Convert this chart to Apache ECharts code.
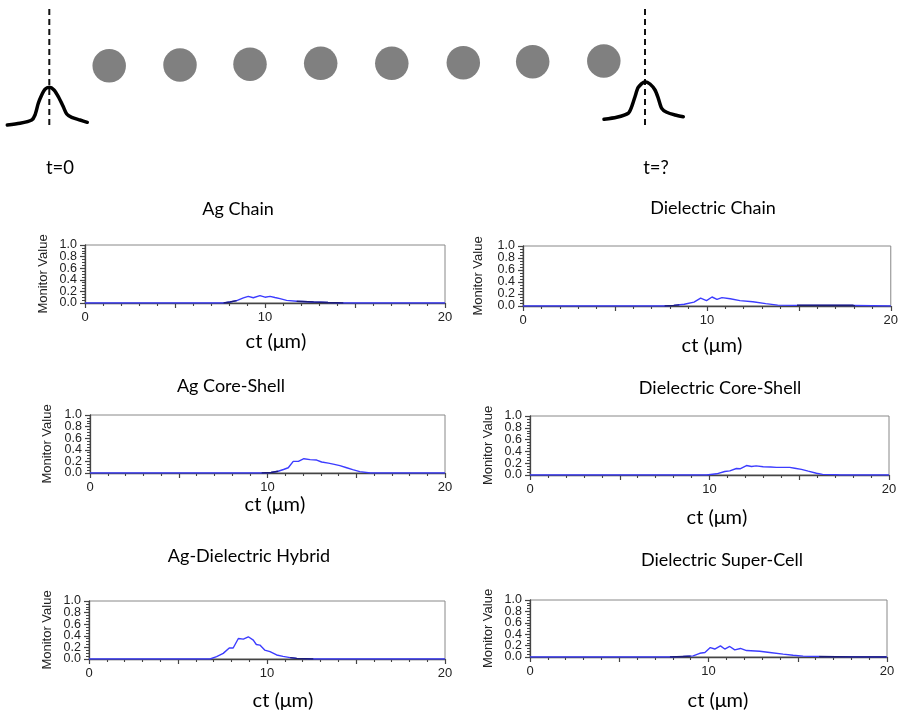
<!DOCTYPE html>
<html>
<head>
<meta charset="utf-8">
<script src="https://cdn.jsdelivr.net/npm/echarts@6/dist/echarts.min.js"></script>
<style>html,body{margin:0;padding:0;background:#fff;}#c{width:901px;height:712px;}</style>
</head>
<body>
<div id="c"></div>
<script>
// ---------- Schematic (top) data ----------
const beadX = [109.2, 180, 250, 320.7, 391.8, 463.3, 532.7, 603.8];
const beadY = [65.8, 65, 64.2, 63.3, 63.3, 62.7, 61.7, 61];
const pulseLeft = [[7.3,125],[20,123.3],[31.7,120],[35,115],[38.3,103.3],[41.7,95],[45,89.3],[49.3,87.3],[54,90],[58.3,96.7],[63.3,106.7],[66.7,114],[71.7,117.3],[80,120],[87.3,122.3]];
const pulseRight = [[604,119.3],[616.7,117.3],[628.3,113.3],[631.7,106.7],[635,96.7],[638.3,87.3],[645,81.7],[650,84],[655,90],[658.3,98.3],[661.7,108.3],[666.7,112.3],[675,115],[683.3,116.7]];
const markerLeft = [[49.3,9],[49.3,128]];
const markerRight = [[645,9],[645,128]];
const timeLabels = ['t=0', 't=?'];

// ---------- Panel data ----------
const panelTitles = ['Ag Chain', 'Dielectric Chain', 'Ag Core-Shell', 'Dielectric Core-Shell', 'Ag-Dielectric Hybrid', 'Dielectric Super-Cell'];
const xTickLabels = [0, 10, 20];
const yTickLabelsA = [0.0, 0.4, 0.8];
const yTickLabelsB = [0.2, 0.6, 1.0];

const agChain = [[0,0],[7.7,0],[8.05,0.017],[8.43,0.04],[8.8,0.087],[9.07,0.115],[9.35,0.09],[9.72,0.127],[10.0,0.1],[10.28,0.115],[10.55,0.095],[10.83,0.075],[11.2,0.046],[11.76,0.03],[12.7,0.017],[13.5,0.008],[14.35,0],[20,0]];
const agChainDark = [[[7.7,0],[8.05,0.017],[8.43,0.04]], [[11.76,0.03],[12.7,0.017],[13.5,0.008],[14.35,0]]];

const dielChain = [[0,0],[7.7,0],[8.2,0.01],[8.77,0.03],[9.3,0.065],[9.66,0.13],[9.98,0.09],[10.28,0.15],[10.55,0.11],[10.82,0.14],[11.27,0.12],[11.8,0.09],[12.5,0.07],[13.2,0.04],[13.85,0.015],[14.8,0.01],[18,0.008],[18.1,0],[20,0]];
const dielChainDark = [[[7.7,0],[8.2,0.01],[8.5,0.018]], [[14.9,0.012],[17.95,0.012],[18.05,0]]];

const agCoreShell = [[0,0],[9.67,0],[10.2,0.008],[10.6,0.03],[10.9,0.06],[11.17,0.09],[11.45,0.2],[11.74,0.2],[12.05,0.246],[12.4,0.23],[12.77,0.223],[13.05,0.19],[13.43,0.17],[13.7,0.154],[14.08,0.126],[14.46,0.09],[14.8,0.057],[15.2,0.023],[15.8,0],[20,0]];
const agCoreShellDark = [[[9.67,0],[10.2,0.008],[10.6,0.03]]];

const dielCoreShell = [[0,0],[9.83,0],[10.4,0.02],[10.85,0.06],[11.13,0.07],[11.5,0.11],[11.7,0.105],[12.06,0.16],[12.34,0.145],[12.6,0.155],[12.99,0.14],[13.4,0.135],[13.73,0.13],[14.1,0.13],[14.47,0.13],[14.75,0.115],[15.12,0.095],[15.5,0.065],[15.96,0.03],[16.3,0.01],[17.07,0.004],[17.3,0],[20,0]];
const dielCoreShellDark = [];

const hybrid = [[0,0],[6.8,0],[7.17,0.04],[7.54,0.097],[7.88,0.19],[8.1,0.19],[8.39,0.354],[8.67,0.343],[8.95,0.383],[9.23,0.326],[9.4,0.25],[9.6,0.24],[9.87,0.154],[10.17,0.126],[10.54,0.069],[10.9,0.046],[11.3,0.023],[11.67,0.011],[12.6,0],[20,0]];
const hybridDark = [[[11.3,0.023],[11.67,0.011],[12.6,0]]];

const superCell = [[0,0],[7.84,0],[8.58,0.01],[9.14,0.02],[9.51,0.065],[9.8,0.08],[10.1,0.165],[10.35,0.14],[10.67,0.195],[10.91,0.14],[11.19,0.185],[11.47,0.125],[11.79,0.15],[12.13,0.113],[12.87,0.1],[13.43,0.08],[14.18,0.05],[14.74,0.03],[15.3,0.015],[16.2,0.008],[18.1,0.003],[19.96,0],[20,0]];
const superCellDark = [[[7.84,0],[8.58,0.01],[9.0,0.015]], [[16.2,0.008],[18.1,0.003],[19.96,0]]];

const panelData = [agChain, dielChain, agCoreShell, dielCoreShell, hybrid, superCell];
const panelDark = [agChainDark, dielChainDark, agCoreShellDark, dielCoreShellDark, hybridDark, superCellDark];

// ---------- Layout (positions only) ----------
const panelGrids = [
  {left:85, top:245, width:360, height:58},
  {left:523, top:246, width:374, height:60},
  {left:90, top:415, width:355, height:58},
  {left:530, top:416, width:359, height:59},
  {left:89, top:601, width:356, height:58},
  {left:530, top:600, width:357, height:57}
];
const titlePos = [[238,209],[713,208],[231,386],[720,388],[249,556],[722,560]];
const xNamePos = [[276,342],[712,346],[275,505],[717,518],[283,701],[718,701]];
const yNameGap = [42,45,43,42,41.5,42];
const timePos = [[60,168],[656,168]];

const BLUE = '#3c3cff';
const DARK = '#1b1b7a';
const AX = '#444';

const grids = [{left:0, top:0, width:901, height:200, show:false}];
const xAxes = [{gridIndex:0, type:'value', min:0, max:901, show:false}];
const yAxes = [{gridIndex:0, type:'value', min:0, max:200, inverse:true, show:false}];
const series = [];
const titles = [];

// schematic series
[markerLeft, markerRight].forEach(m => series.push({
  type:'line', xAxisIndex:0, yAxisIndex:0, data:m, symbol:'none', silent:true,
  lineStyle:{color:'#111', width:2, type:[6,4]}
}));
[pulseLeft, pulseRight].forEach(p => series.push({
  type:'line', xAxisIndex:0, yAxisIndex:0, data:p, symbol:'none', smooth:0.25, silent:true,
  lineStyle:{color:'#000', width:3.5, cap:'round', join:'round'}
}));
series.push({
  type:'scatter', xAxisIndex:0, yAxisIndex:0, symbol:'circle', symbolSize:33.5,
  data: beadX.map((x,i) => [x, beadY[i]]),
  itemStyle:{color:'#808080', opacity:1}, silent:true
});
timeLabels.forEach((t,i) => titles.push({
  text:t, left:timePos[i][0], top:timePos[i][1], textAlign:'center', textVerticalAlign:'middle', padding:0,
  textStyle:{fontFamily:'Lato', fontSize:18.5, fontWeight:'normal', color:'#000'}
}));

const labelFmt = list => v => { const m = list.find(t => Math.abs(t - v) < 1e-6); return m === undefined ? '' : m.toFixed(1); };
const yLabelStyle = {margin:8, fontSize:12.5, color:'#222', fontFamily:'Liberation Sans', showMinLabel:true, showMaxLabel:true, hideOverlap:false};

// panels
panelTitles.forEach((name, k) => {
  const gi = k + 1;
  grids.push(Object.assign({show:true, borderColor:'#888', borderWidth:1, backgroundColor:'transparent'}, panelGrids[k]));
  xAxes.push({
    gridIndex:gi, type:'value', min:0, max:20, interval:5,
    axisLine:{show:true, onZero:false, lineStyle:{color:AX, width:1.3}},
    axisTick:{show:true, length:5, lineStyle:{color:AX, width:1.2}},
    minorTick:{show:true, splitNumber:5, length:3, lineStyle:{color:AX, width:1.1}},
    splitLine:{show:false}, minorSplitLine:{show:false},
    axisLabel:{
      formatter: v => (xTickLabels.indexOf(v) >= 0 ? String(v) : ''),
      showMinLabel:true, showMaxLabel:true, hideOverlap:false,
      margin:8, fontSize:13, color:'#222', fontFamily:'Liberation Sans'
    }
  });
  const yMainIndex = yAxes.length;
  yAxes.push({
    gridIndex:gi, type:'value', min:0, max:1, interval:0.2, position:'left',
    axisLine:{show:true, onZero:false, lineStyle:{color:AX, width:1.3}},
    axisTick:{show:true, length:5, lineStyle:{color:AX, width:1.2}},
    minorTick:{show:true, splitNumber:4, length:3, lineStyle:{color:AX, width:1}},
    splitLine:{show:false}, minorSplitLine:{show:false},
    axisLabel:Object.assign({formatter: labelFmt(yTickLabelsA)}, yLabelStyle),
    name:'Monitor Value', nameLocation:'middle', nameGap:yNameGap[k],
    nameTextStyle:{fontFamily:'Liberation Sans', fontSize:13, color:'#222', verticalAlign:'middle'}
  });
  // companion axis carrying the alternate tick labels (same scale)
  yAxes.push({
    gridIndex:gi, type:'value', min:0, max:1, interval:0.2, position:'left', offset:0,
    axisLine:{show:false}, axisTick:{show:false}, splitLine:{show:false},
    axisLabel:Object.assign({formatter: labelFmt(yTickLabelsB)}, yLabelStyle)
  });
  series.push({
    type:'line', xAxisIndex:gi, yAxisIndex:yMainIndex, data:panelData[k], symbol:'none', showSymbol:false,
    lineStyle:{color:BLUE, width:1.4}, z:3, silent:true
  });
  panelDark[k].forEach(seg => series.push({
    type:'line', xAxisIndex:gi, yAxisIndex:yMainIndex, data:seg, symbol:'none', showSymbol:false,
    lineStyle:{color:DARK, width:1.4}, z:4, silent:true
  }));
  titles.push({
    text:name, left:titlePos[k][0], top:titlePos[k][1], textAlign:'center', textVerticalAlign:'middle', padding:0,
    textStyle:{fontFamily:'Lato', fontSize:18, fontWeight:'normal', color:'#000'}
  });
  titles.push({
    text:'ct (\u03bcm)', left:xNamePos[k][0], top:xNamePos[k][1], textAlign:'center', textVerticalAlign:'middle', padding:0,
    textStyle:{fontFamily:'Lato', fontSize:20, fontWeight:'normal', color:'#000'}
  });
});

const chart = echarts.init(document.getElementById('c'), null, {renderer:'canvas'});
chart.setOption({
  animation:false,
  backgroundColor:'#fff',
  title:titles,
  grid:grids,
  xAxis:xAxes,
  yAxis:yAxes,
  series:series
});
</script>
</body>
</html>
